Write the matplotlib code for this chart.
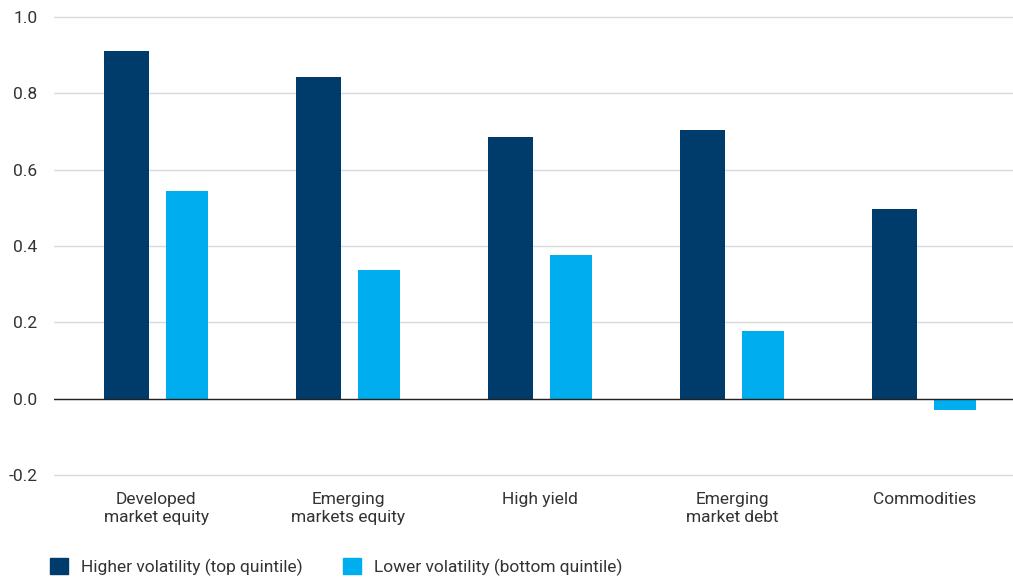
import numpy as np
import matplotlib.pyplot as plt
from matplotlib.patches import Patch

plt.rcParams['font.family'] = ['Roboto', 'DejaVu Sans']

categories = ["Developed\nmarket equity", "Emerging\nmarkets equity", "High yield",
              "Emerging\nmarket debt", "Commodities"]
higher_vol = [0.911, 0.843, 0.686, 0.704, 0.497]
lower_vol = [0.545, 0.338, 0.377, 0.178, -0.029]

dark = "#003C6B"
light = "#00AEEF"
text_col = "#333333"

fig = plt.figure(figsize=(10.13, 5.79), dpi=100)
ax = fig.add_axes([0.0533, 0.176, 0.9467, 0.797])

x = np.arange(len(categories))
ax.bar(x - 0.155, higher_vol, width=0.235, color=dark, zorder=3)
ax.bar(x + 0.16, lower_vol, width=0.22, color=light, zorder=3)

ax.set_xlim(-0.532, 4.46)
ax.set_ylim(-0.205, 1.003)
ax.set_yticks([-0.2, 0.0, 0.2, 0.4, 0.6, 0.8, 1.0])
ax.set_yticklabels(["-0.2", "0.0", "0.2", "0.4", "0.6", "0.8", "1.0"])
ax.yaxis.grid(True, color="#d9d9d9", linewidth=1, zorder=0)
ax.axhline(0, color="#222222", linewidth=1, zorder=4)
ax.set_xticks(x)
ax.set_xticklabels(categories, linespacing=1.25)
ax.tick_params(axis="both", length=0, labelsize=12.5, colors=text_col)
ax.tick_params(axis="y", pad=12)
ax.tick_params(axis="x", pad=11)
for s in ax.spines.values():
    s.set_visible(False)

handles = [Patch(color=dark, label="Higher volatility (top quintile)"),
           Patch(color=light, label="Lower volatility (bottom quintile)")]
leg = fig.legend(handles=handles, loc="lower left", bbox_to_anchor=(0.034, -0.022), ncol=2,
                 frameon=False, fontsize=12.5, handlelength=1.05, handleheight=1.05,
                 columnspacing=2.3, handletextpad=0.75)
for t in leg.get_texts():
    t.set_color(text_col)

fig.savefig("out.png", dpi=100)
